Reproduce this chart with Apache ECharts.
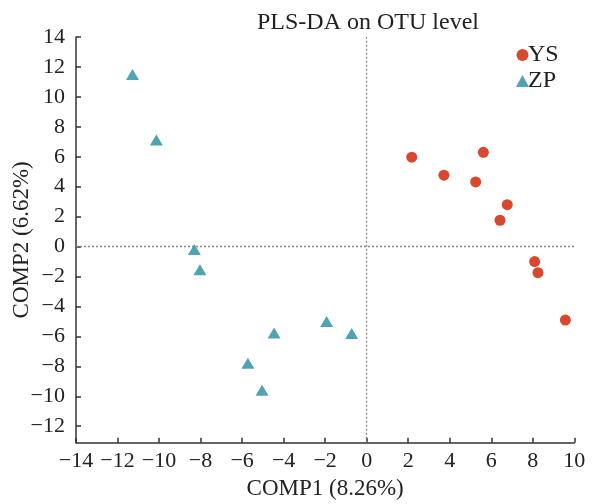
<!DOCTYPE html>
<html>
<head>
<meta charset="utf-8">
<script src="https://cdn.jsdelivr.net/npm/echarts@6/dist/echarts.min.js"></script>
<style>
html,body{margin:0;padding:0;background:#fff;}
#chart{width:592px;height:504px;}
</style>
</head>
<body>
<div id="chart"></div>
<script>
const titleText = 'PLS-DA on OTU level';
const xName = 'COMP1 (8.26%)';
const yName = 'COMP2 (6.62%)';
const seriesNames = ['YS', 'ZP'];
const xTicks = [-14, -12, -10, -8, -6, -4, -2, 0, 2, 4, 6, 8, 10];
const yTicks = [-12, -10, -8, -6, -4, -2, 0, 2, 4, 6, 8, 10, 12, 14];
const ysX = [2.17, 5.62, 3.72, 5.25, 6.77, 6.42, 8.09, 8.25, 9.57];
const ysY = [5.97, 6.30, 4.77, 4.32, 2.80, 1.76, -1.00, -1.74, -4.91];
const zpX = [-11.28, -10.13, -8.30, -8.03, -4.46, -5.72, -5.04, -1.93, -0.72];
const zpY = [11.50, 7.12, -0.20, -1.55, -5.78, -7.80, -9.60, -5.00, -5.80];

const FONT = '"Liberation Serif", "Times New Roman", serif';
const fmt = v => String(v).replace('-', '\u2212');
const chart = echarts.init(document.getElementById('chart'), null, {renderer: 'canvas'});
const axisCommon = {
  axisLine: {show: true, onZero: false, lineStyle: {color: '#333', width: 1.5}},
  axisTick: {show: true, inside: true, length: 5, lineStyle: {color: '#333', width: 1.5}},
  splitLine: {show: false},
  nameLocation: 'middle',
  nameMoveOverlap: false,
  nameTextStyle: {fontFamily: FONT, fontSize: 23, color: '#222'}
};
chart.setOption({
  animation: false,
  backgroundColor: '#fff',
  title: {
    text: titleText, left: 363, top: 6, textAlign: 'center',
    textStyle: {fontFamily: FONT, fontSize: 24, fontWeight: 'normal', color: '#222'}
  },
  legend: {
    orient: 'vertical', left: 511, top: 38,
    itemWidth: 13, itemHeight: 12, itemGap: 2,
    textStyle: {fontFamily: FONT, fontSize: 24, color: '#222', padding: [0, 0, 0, -6], lineHeight: 23},
    data: [{name: seriesNames[0], icon: 'circle'}, {name: seriesNames[1], icon: 'triangle'}]
  },
  grid: {left: 76, right: 17.7, top: 37, bottom: 61.3, containLabel: false, outerBoundsMode: 'none'},
  xAxis: Object.assign({}, axisCommon, {
    type: 'value', min: xTicks[0], max: xTicks[xTicks.length - 1], interval: 2,
    name: xName, nameGap: 35,
    axisLabel: {fontFamily: FONT, fontSize: 22, color: '#222', margin: 8, formatter: fmt}
  }),
  yAxis: Object.assign({}, axisCommon, {
    type: 'value', min: -13.1, max: 14,
    name: yName, nameGap: 43,
    axisTick: Object.assign({}, axisCommon.axisTick, {customValues: yTicks}),
    axisLabel: {fontFamily: FONT, fontSize: 22, color: '#222', margin: 11, formatter: fmt, customValues: yTicks}
  }),
  series: [
    {
      name: seriesNames[0], type: 'scatter', symbol: 'circle', symbolSize: 11,
      itemStyle: {color: '#d9472f', opacity: 1},
      data: ysX.map((x, i) => [x, ysY[i]]),
      markLine: {
        silent: true, symbol: ['none', 'none'], label: {show: false},
        lineStyle: {type: [2, 2], color: '#888', width: 1.3},
        data: [{xAxis: 0}, {yAxis: 0}]
      },
      z: 3
    },
    {
      name: seriesNames[1], type: 'scatter', symbol: 'triangle', symbolSize: [13, 11],
      itemStyle: {color: '#4fa3b3', opacity: 1},
      data: zpX.map((x, i) => [x, zpY[i]]),
      z: 3
    }
  ]
});
</script>
</body>
</html>
